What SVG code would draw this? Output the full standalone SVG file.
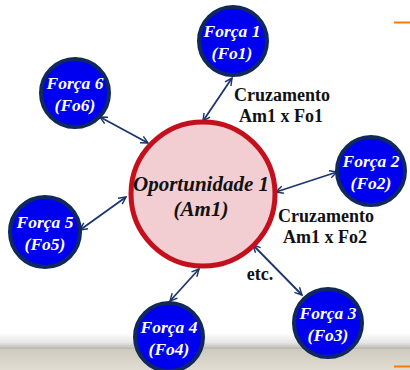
<svg xmlns="http://www.w3.org/2000/svg" width="410" height="370" viewBox="0 0 410 370">
<defs>
<linearGradient id="shade" x1="0" y1="0" x2="0" y2="1">
<stop offset="0" stop-color="#ffffff"/>
<stop offset="0.6" stop-color="#e6e6e6"/>
<stop offset="1" stop-color="#b9b6ad"/>
</linearGradient>
<linearGradient id="band" x1="0" y1="0" x2="0" y2="1">
<stop offset="0" stop-color="#cfcac0"/>
<stop offset="1" stop-color="#e2ddd3"/>
</linearGradient>
<marker id="ah" viewBox="0 0 10 10" refX="9" refY="5" markerWidth="9" markerHeight="9" markerUnits="userSpaceOnUse" orient="auto-start-reverse">
<path d="M1,1 L9,5 L1,9" fill="none" stroke="#1b3570" stroke-width="1.6"/>
</marker>
</defs>
<style>
text{font-family:"Liberation Serif",serif !important;font-weight:bold}
.node circle{fill:#0000f0;stroke:#10295c;stroke-width:4}
.node text{fill:#ffffff;font-style:italic;font-size:17.5px;text-anchor:middle}
.main text{fill:#111111;font-style:italic;font-size:21px;text-anchor:middle}
.lbl{fill:#111111;font-size:18px;text-anchor:middle}
#connectors line{stroke:#1b3570;stroke-width:1.8;marker-start:url(#ah);marker-end:url(#ah)}
</style>
<rect width="410" height="370" fill="#ffffff"/>
<rect x="0" y="333" width="410" height="16" fill="url(#shade)"/>
<rect x="0" y="349" width="410" height="21" fill="url(#band)"/>
<line x1="394" y1="22.5" x2="410" y2="22.5" stroke="#f07d10" stroke-width="2"/>
<line x1="394" y1="366.5" x2="410" y2="366.5" stroke="#f07d10" stroke-width="2"/>
<g id="connectors">
<line x1="203" y1="121" x2="232" y2="78"/>
<line x1="148" y1="143" x2="100" y2="117"/>
<line x1="126" y1="197" x2="80" y2="230"/>
<line x1="199" y1="269" x2="170" y2="301"/>
<line x1="253" y1="245" x2="302" y2="295"/>
<line x1="276" y1="192" x2="337" y2="172"/>
</g>
<g id="main" class="main">
<circle cx="203" cy="194" r="72" fill="#f2cdd2" stroke="#c3101c" stroke-width="5"/>
<text x="201" y="191">Oportunidade 1</text>
<text x="201" y="216">(Am1)</text>
</g>
<g id="fo1" class="node"><circle cx="233" cy="41" r="34"/><text x="232" y="37">Força 1</text><text x="232" y="59">(Fo1)</text></g>
<g id="fo2" class="node"><circle cx="371" cy="171" r="34"/><text x="371" y="167">Força 2</text><text x="371" y="189">(Fo2)</text></g>
<g id="fo3" class="node"><circle cx="328" cy="323" r="34"/><text x="328" y="319">Força 3</text><text x="328" y="341">(Fo3)</text></g>
<g id="fo4" class="node"><circle cx="169" cy="337" r="34"/><text x="169" y="333">Força 4</text><text x="169" y="355">(Fo4)</text></g>
<g id="fo5" class="node"><circle cx="45" cy="232" r="35"/><text x="45" y="228">Força 5</text><text x="45" y="250">(Fo5)</text></g>
<g id="fo6" class="node"><circle cx="75" cy="93" r="34"/><text x="75" y="89">Força 6</text><text x="75" y="111">(Fo6)</text></g>
<g id="labels">
<text class="lbl" x="282" y="101">Cruzamento</text>
<text class="lbl" x="281" y="122">Am1 x Fo1</text>
<text class="lbl" x="326" y="222">Cruzamento</text>
<text class="lbl" x="325" y="243">Am1 x Fo2</text>
<text class="lbl" x="260" y="280">etc.</text>
</g>
</svg>
